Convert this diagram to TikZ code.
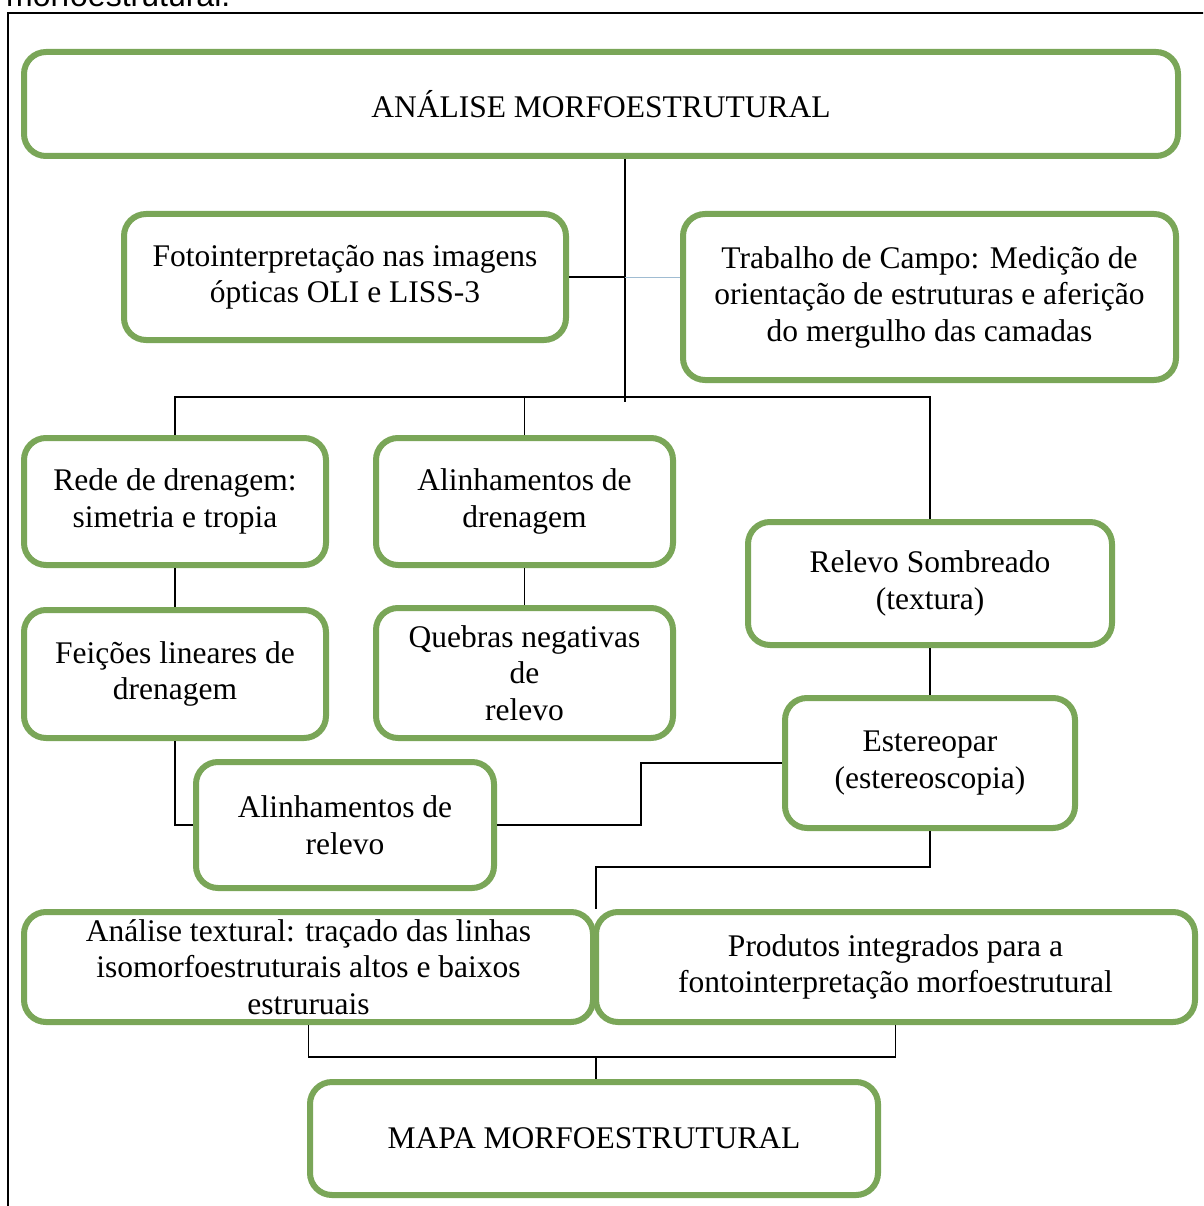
\documentclass[tikz,border=0pt]{standalone}
\usepackage{fontspec}
\setmainfont{Liberation Serif}
\newfontfamily\legenda{Liberation Sans}
\usetikzlibrary{calc}
\definecolor{verdecx}{RGB}{122,166,88}
\definecolor{azulcl}{RGB}{160,188,210}

\begin{document}
\begin{tikzpicture}[x=1pt, y=-1pt,
    caixa/.style={rectangle, rounded corners=22pt, draw=verdecx, line width=6pt, fill=white,
      align=center, inner sep=0pt, font=\fontsize{31.5}{36.5}\selectfont},
    liga/.style={draw=black, line width=1.4pt}]
  \clip (0,0) rectangle (1203,1206);

  % legenda cortada e moldura
  \node[anchor=base west, inner sep=0pt, font=\legenda\fontsize{32}{32}\selectfont] (legenda) at (6,7) {morfoestrutural.};
  \draw[line width=2pt] (8,1230) -- (8,13) -- (1230,13);

  \node[caixa, minimum width=1154pt, minimum height=104pt] (analise) at (601,104) {ANÁLISE MORFOESTRUTURAL};
  \node[caixa, minimum width=442pt, minimum height=126pt] (foto) at (345,277) {Fotointerpretação nas imagens\\ ópticas OLI e LISS-3};
  \node[caixa, minimum width=493pt, minimum height=166pt] (campo) at (929.5,297) {Trabalho de Campo: Medição de\\ orientação de estruturas e aferição\\ do mergulho das camadas};
  \node[caixa, minimum width=302pt, minimum height=127pt] (rede) at (175,501.5) {Rede de drenagem:\\ simetria e tropia};
  \node[caixa, minimum width=297pt, minimum height=127pt] (alidren) at (524.5,501.5) {Alinhamentos de\\ drenagem};
  \node[caixa, minimum width=364pt, minimum height=123pt] (sombra) at (930,583.5) {Relevo Sombreado\\ (textura)};
  \node[caixa, minimum width=302pt, minimum height=128pt] (feicoes) at (175,674) {Feições lineares de\\ drenagem};
  \node[caixa, minimum width=297pt, minimum height=130pt] (quebras) at (524.5,673) {Quebras negativas\\ de\\ relevo};
  \node[caixa, minimum width=298pt, minimum height=126pt] (alirel) at (345,825) {Alinhamentos de\\ relevo};
  \node[caixa, minimum width=290pt, minimum height=130pt] (estereo) at (930,763) {Estereopar\\ (estereoscopia)};
  \node[caixa, minimum width=569pt, minimum height=110pt] (textural) at (308.5,967) {Análise textural: traçado das linhas\\ isomorfoestruturais altos e baixos\\ estruruais};
  \node[caixa, minimum width=599pt, minimum height=110pt] (produtos) at (895.5,967) {Produtos integrados para a\\ fontointerpretação morfoestrutural};
  \node[caixa, minimum width=568pt, minimum height=113pt] (mapa) at (594,1138.5) {MAPA MORFOESTRUTURAL};

  % ligacoes
  \coordinate (tronco) at (625,397);
  \coordinate (dobra) at (641,0);
  \coordinate (juncao) at (596,867);
  \coordinate (uniao) at (596,1057);

  \draw[liga] (analise.south -| tronco) -- ($(tronco)+(0,5)$);
  \draw[liga] (foto.east) -- (foto.east -| tronco);
  \draw[liga, draw=azulcl, line width=1pt] (foto.east -| tronco) -- (campo.west |- foto.east);
  \draw[liga] (rede.north) -- (rede.north |- tronco) -- (sombra.north |- tronco) -- (sombra.north);
  \draw[liga] (alidren.north) -- (alidren.north |- tronco);
  \draw[liga] (rede.south) -- (feicoes.north);
  \draw[liga] (alidren.south) -- (quebras.north);
  \draw[liga] (feicoes.south) |- (alirel.west);
  \draw[liga] (sombra.south) -- (estereo.north);
  \draw[liga] (alirel.east) -- (alirel.east -| dobra) -- (estereo.west -| dobra) -- (estereo.west);
  \draw[liga] (estereo.south) |- (juncao) -- (juncao |- textural.north);
  \draw[liga] (textural.south) |- (produtos.south |- uniao) -- (produtos.south);
  \draw[liga] (uniao) -- (mapa.north -| uniao);
\end{tikzpicture}
\end{document}
